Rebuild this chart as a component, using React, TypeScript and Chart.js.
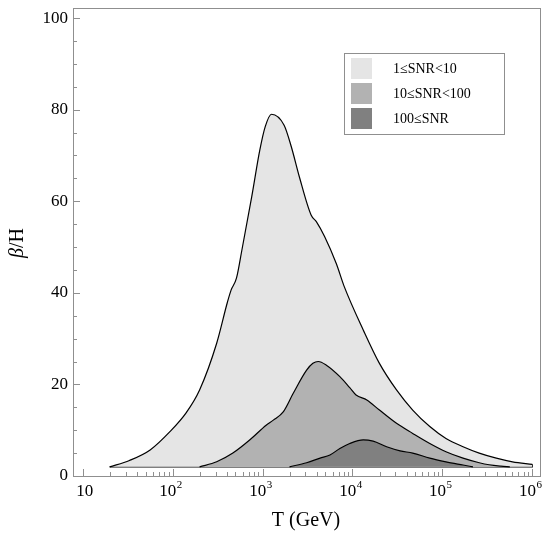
import React, { useEffect, useRef } from "react";
import { Chart, registerables } from "chart.js";

Chart.register(...registerables);

// ---- data (T given as log10 of GeV, beta/H values) ----
const baseBeta = 2;

const lightLogT = [1.30, 1.52, 1.75, 1.97, 2.15, 2.30, 2.49, 2.61, 2.65, 2.71, 2.77, 2.88, 2.97, 3.03, 3.10, 3.24, 3.32, 3.41, 3.54, 3.60, 3.69, 3.82, 3.91, 4.12, 4.30, 4.49, 4.67, 4.86, 5.04, 5.23, 5.41, 5.60, 5.78, 6.00];
const lightBeta = [2, 3.4, 5.7, 9.7, 13.8, 18.8, 29, 38, 40.6, 43.2, 49.3, 61, 71.2, 76.3, 79, 76.6, 71.9, 65.3, 57, 55.5, 52.3, 46.4, 41.3, 31.9, 24.6, 18.8, 14.4, 10.8, 8.2, 6.4, 5.0, 3.9, 3.1, 2.55];

const mediumLogT = [2.30, 2.49, 2.67, 2.86, 3.04, 3.12, 3.23, 3.34, 3.49, 3.56, 3.62, 3.71, 3.86, 3.97, 4.04, 4.16, 4.30, 4.49, 4.67, 4.86, 5.04, 5.23, 5.41, 5.52, 5.65, 5.75];
const mediumBeta = [2, 3.1, 5, 7.9, 11.1, 12.2, 14, 18, 23.1, 24.6, 25, 24.2, 21.7, 19.3, 17.7, 16.6, 14.4, 11.5, 9.3, 7.1, 5.3, 3.9, 2.9, 2.45, 2.15, 2];

const darkLogT = [3.30, 3.49, 3.64, 3.75, 3.86, 3.97, 4.12, 4.23, 4.38, 4.53, 4.67, 4.86, 5.04, 5.23, 5.34];
const darkBeta = [2, 2.9, 3.9, 4.6, 6, 7.1, 7.9, 7.6, 6.4, 5.5, 5, 3.9, 3.1, 2.4, 2];

const seriesLabels = ["1\u2264SNR<10", "10\u2264SNR<100", "100\u2264SNR"];
const seriesColors = ["#e5e5e5", "#b2b2b2", "#808080"];

const xTickExponents = [1, 2, 3, 4, 5, 6];
const yTickValues = [0, 20, 40, 60, 80, 100];
const yMinorStep = 5;

const xTitle = "T (GeV)";
const yTitleGreek = "\u03b2";
const yTitleRest = "/H";

const FONT = "'Liberation Serif', 'Times New Roman', serif";

function toPoints(logT: number[], beta: number[]) {
  return logT.map((l, i) => ({ x: Math.pow(10, l), y: beta[i] }));
}

const decorPlugin = {
  id: "decor",
  afterDraw(chart: any) {
    const { ctx, chartArea: a, scales } = chart;
    const xs = scales.x;
    const ys = scales.y;
    ctx.save();
    // frame
    ctx.strokeStyle = "#8f8f8f";
    ctx.lineWidth = 1;
    ctx.strokeRect(a.left + 0.5, a.top + 0.5, a.right - a.left - 1, a.bottom - a.top);

    // x ticks
    ctx.beginPath();
    for (let k = xTickExponents[0]; k <= xTickExponents[xTickExponents.length - 1]; k++) {
      const px = Math.round(xs.getPixelForValue(Math.pow(10, k))) + 0.5;
      ctx.moveTo(px, a.bottom);
      ctx.lineTo(px, a.bottom - 7);
      if (k < xTickExponents[xTickExponents.length - 1]) {
        for (let m = 2; m <= 9; m++) {
          const pm = Math.round(xs.getPixelForValue(m * Math.pow(10, k))) + 0.5;
          ctx.moveTo(pm, a.bottom);
          ctx.lineTo(pm, a.bottom - 4);
        }
      }
    }
    // y ticks
    const yMax = yTickValues[yTickValues.length - 1];
    for (let v = 0; v <= yMax; v += yMinorStep) {
      const py = Math.round(ys.getPixelForValue(v)) + 0.5;
      const major = yTickValues.includes(v);
      ctx.moveTo(a.left, py);
      ctx.lineTo(a.left + (major ? 7 : 4), py);
    }
    ctx.stroke();

    // y tick labels
    ctx.fillStyle = "#000";
    ctx.font = `17px ${FONT}`;
    ctx.textAlign = "right";
    ctx.textBaseline = "middle";
    for (const v of yTickValues) {
      ctx.fillText(String(v), a.left - 5, ys.getPixelForValue(v));
    }

    // x tick labels with superscripts
    const labelY = a.bottom + 16;
    for (const k of xTickExponents) {
      const px = xs.getPixelForValue(Math.pow(10, k));
      ctx.font = `17px ${FONT}`;
      const wb = ctx.measureText("10").width;
      let ws = 0;
      if (k > 1) {
        ctx.font = `11px ${FONT}`;
        ws = ctx.measureText(String(k)).width;
      }
      const start = px - (wb + ws) / 2 - (k > 1 ? 2 : -2);
      ctx.textAlign = "left";
      ctx.textBaseline = "middle";
      ctx.font = `17px ${FONT}`;
      ctx.fillText("10", start, labelY);
      if (k > 1) {
        ctx.font = `11px ${FONT}`;
        ctx.fillText(String(k), start + wb + 0.5, labelY - 7);
      }
    }

    // x title
    ctx.font = `20px ${FONT}`;
    ctx.textAlign = "center";
    ctx.textBaseline = "middle";
    ctx.fillText(xTitle, 306, 521);

    // y title (rotated)
    ctx.save();
    ctx.translate(18, 243);
    ctx.rotate(-Math.PI / 2);
    ctx.font = `italic 20px ${FONT}`;
    const wg = ctx.measureText(yTitleGreek).width;
    ctx.font = `20px ${FONT}`;
    const wr = ctx.measureText(yTitleRest).width;
    const s = -(wg + wr) / 2;
    ctx.textAlign = "left";
    ctx.font = `italic 20px ${FONT}`;
    ctx.fillText(yTitleGreek, s, 0);
    ctx.font = `20px ${FONT}`;
    ctx.fillText(yTitleRest, s + wg, 0);
    ctx.restore();

    // legend
    ctx.fillStyle = "#fff";
    ctx.fillRect(344, 53, 160, 81);
    ctx.strokeStyle = "#8f8f8f";
    ctx.strokeRect(344.5, 53.5, 160, 81);
    ctx.font = `14px ${FONT}`;
    ctx.textAlign = "left";
    ctx.textBaseline = "middle";
    for (let i = 0; i < seriesLabels.length; i++) {
      const top = 58 + i * 25;
      ctx.fillStyle = seriesColors[i];
      ctx.fillRect(351, top, 21, 21);
      ctx.fillStyle = "#000";
      ctx.fillText(seriesLabels[i], 393, top + 11);
    }
    ctx.restore();
  },
};

export default function App() {
  const canvasRef = useRef<HTMLCanvasElement | null>(null);

  useEffect(() => {
    const canvas = canvasRef.current;
    if (!canvas) return;
    const common = {
      borderColor: "#000",
      borderWidth: 1.2,
      pointRadius: 0,
      cubicInterpolationMode: "monotone" as const,
      fill: { value: baseBeta },
    };
    const chart = new Chart(canvas, {
      type: "line",
      data: {
        datasets: [
          { ...common, label: seriesLabels[2], data: toPoints(darkLogT, darkBeta), backgroundColor: seriesColors[2] },
          { ...common, label: seriesLabels[1], data: toPoints(mediumLogT, mediumBeta), backgroundColor: seriesColors[1] },
          { ...common, label: seriesLabels[0], data: toPoints(lightLogT, lightBeta), backgroundColor: seriesColors[0] },
          {
            label: "base",
            data: [
              { x: Math.pow(10, lightLogT[0]), y: baseBeta },
              { x: Math.pow(10, lightLogT[lightLogT.length - 1]), y: baseBeta },
              { x: Math.pow(10, lightLogT[lightLogT.length - 1]), y: lightBeta[lightBeta.length - 1] },
            ],
            borderColor: "#000",
            borderWidth: 1.2,
            pointRadius: 0,
            fill: false,
            tension: 0,
          },
        ],
      },
      options: {
        animation: false,
        responsive: true,
        maintainAspectRatio: false,
        devicePixelRatio: 1,
        layout: { padding: { left: 73, right: 4, top: 8, bottom: 69 } },
        plugins: { legend: { display: false }, tooltip: { enabled: false } },
        scales: {
          x: { type: "logarithmic", min: 7.8, max: 1.25e6, display: false },
          y: { type: "linear", min: 0, max: 102.2, display: false },
        },
      },
      plugins: [decorPlugin],
    });
    return () => chart.destroy();
  }, []);

  return (
    <div style={{ position: "absolute", left: 0, top: 0, width: 545, height: 545, background: "#fff" }}>
      <canvas ref={canvasRef} />
    </div>
  );
}
